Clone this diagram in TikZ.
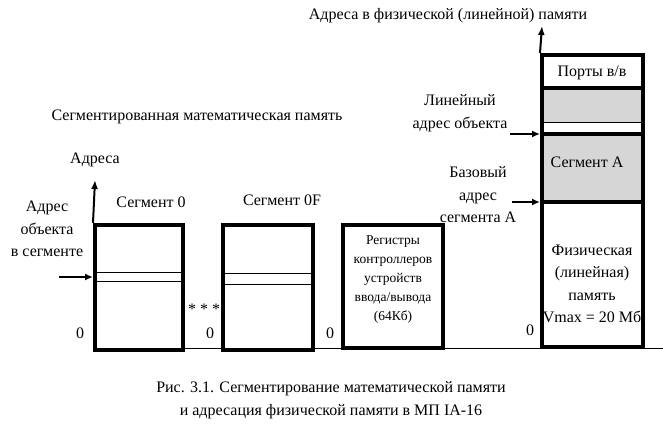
\documentclass[tikz,border=0pt]{standalone}
\usepackage{fontspec}
\setmainfont{Liberation Serif}
\usetikzlibrary{arrows.meta}
\begin{document}
\begin{tikzpicture}[x=1pt,y=-1pt,
  txt/.style={inner sep=0pt, font=\fontsize{16}{22.5}\selectfont, align=center},
  stxt/.style={inner sep=0pt, font=\fontsize{13.5}{19}\selectfont, align=center},
  mbox/.style={draw, line width=4pt, inner sep=0pt},
  thinl/.style={line width=1pt},
  thickl/.style={line width=3.5pt},
  axisarr/.style={line width=2pt, -{Latex[length=9pt,width=7pt]}},
  ptr/.style={line width=2.2pt, -{Latex[length=8pt,width=7pt]}},
  shade/.style={fill=black!16}]
\useasboundingbox (0,0) rectangle (663,443);
% baseline
\coordinate (bl0) at (95,348);
\coordinate (bl1) at (663,348);
\draw[thinl] (bl0) -- (bl1);
% boxes
\node[mbox, fill=white, minimum width=88pt, minimum height=125pt] (seg0) at (139,287.5) {};
\node[mbox, fill=white, minimum width=90pt, minimum height=125pt] (seg0F) at (268,287.5) {};
\node[mbox, fill=white, minimum width=100pt, minimum height=123pt] (regs) at (393,286.5) {};
\node[mbox, fill=white, minimum width=101pt, minimum height=292pt] (phys) at (592.5,201) {};
% shaded zones in physical memory
\fill[shade] (543.5,88) rectangle (641.5,123);
\fill[shade] (543.5,134) rectangle (641.5,202);
\draw[thickl] (542,88) -- (643,88);
\draw[thinl] (542,123) -- (643,123);
\draw[thickl] (542,134) -- (643,134);
\draw[thickl] (542,202) -- (643,202);
\node[mbox, minimum width=101pt, minimum height=292pt] (physb) at (592.5,201) {};
% inner lines in segments
\draw[thinl] (95,273) -- (183,273);
\draw[thinl] (95,282) -- (183,282);
\draw[thinl] (222,274) -- (313,274);
\draw[thinl] (222,285) -- (313,285);
% axes
\coordinate (ax1) at (95,180);
\draw[axisarr] (seg0.north west) -- (ax1);
\coordinate (ax2) at (542,26);
\draw[axisarr] (phys.north west) -- (ax2);
% pointers
\coordinate (p1s) at (59,277);
\coordinate (p1e) at (93,277);
\draw[ptr] (p1s) -- (p1e);
\coordinate (p2s) at (510,134);
\coordinate (p2e) at (540,134);
\draw[ptr] (p2s) -- (p2e);
\coordinate (p3s) at (512,202);
\coordinate (p3e) at (540,202);
\draw[ptr] (p3s) -- (p3e);
% texts
\node[txt] (ttop) at (448,16) {Адреса в физической (линейной) памяти};
\node[txt] (tleft) at (197,117) {Сегментированная математическая память};
\node[txt] (tadr) at (95,160) {Адреса};
\node[txt] (tseg0) at (151,202) {Сегмент 0};
\node[txt] (tseg0F) at (282,200) {Сегмент 0F};
\node[txt] (tobj) at (47,229) {Адрес\\объекта\\в сегменте};
\node[txt] (z1) at (80,333) {0};
\node[txt] (z2) at (210,333) {0};
\node[txt] (z3) at (330,333) {0};
\node[txt] (z4) at (530,330) {0};
\node[txt] (stars) at (204,309) {* * *};
\node[stxt] (tregs) at (393,280) {Регистры\\контроллеров\\устройств\\ввода/вывода\\(64Кб)};
\node[txt] (tports) at (592,73) {Порты в/в};
\node[txt] (tsegA) at (587,162) {Сегмент А};
\node[txt] (tlin) at (460,113) {Линейный\\адрес объекта};
\node[txt] (tbase) at (478,195) {Базовый\\адрес\\сегмента А};
\node[txt] (tphys) at (592,284) {Физическая\\(линейная)\\память\\Vmax = 20 Мб};
\node[txt, font=\fontsize{16}{23}\selectfont] (tcap) at (331,400) {Рис. 3.1. Сегментирование математической памяти\\и адресация физической памяти в МП IA-16};
\end{tikzpicture}
\end{document}
